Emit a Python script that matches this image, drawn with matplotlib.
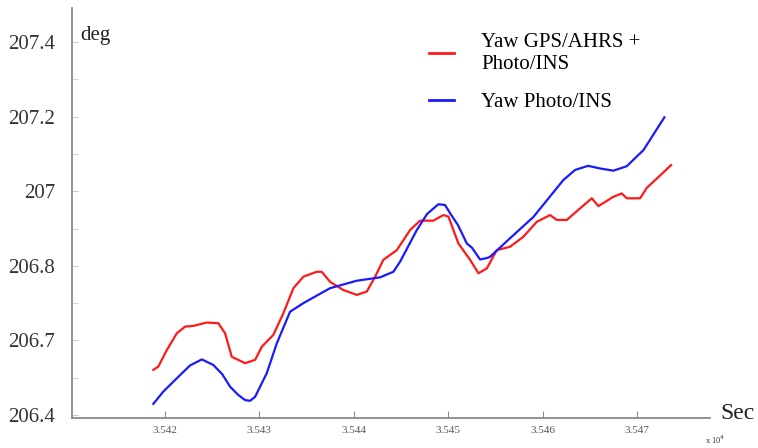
import matplotlib.pyplot as plt
from matplotlib.lines import Line2D

# time in units of 10^4 s, yaw in degrees
blue_t = [3.541881, 3.541987, 3.542164, 3.542270, 3.542394, 3.542516, 3.542608,
          3.542693, 3.542778, 3.542852, 3.542905, 3.542958, 3.543081, 3.543187,
          3.543328, 3.543469, 3.543751, 3.544034, 3.544280, 3.544421, 3.544492,
          3.544669, 3.544778, 3.544897, 3.544968, 3.545021, 3.545105, 3.545198,
          3.545254, 3.545339, 3.545413, 3.545444, 3.545656, 3.545903, 3.546220,
          3.546344, 3.546481, 3.546608, 3.546749, 3.546891, 3.547067, 3.547289]
blue_yaw = [206.430, 206.463, 206.507, 206.533, 206.549, 206.534, 206.510,
            206.476, 206.454, 206.440, 206.438, 206.449, 206.512, 206.592,
            206.677, 206.700, 206.740, 206.760, 206.769, 206.784, 206.811,
            206.896, 206.939, 206.965, 206.963, 206.941, 206.909, 206.860,
            206.848, 206.817, 206.821, 206.824, 206.874, 206.931, 207.030,
            207.057, 207.068, 207.061, 207.055, 207.067, 207.110, 207.198]

red_t = [3.541881, 3.541934, 3.542023, 3.542129, 3.542217, 3.542305, 3.542447,
         3.542569, 3.542640, 3.542711, 3.542852, 3.542958, 3.543029, 3.543151,
         3.543257, 3.543363, 3.543469, 3.543611, 3.543663, 3.543751, 3.543892,
         3.544034, 3.544140, 3.544228, 3.544315, 3.544457, 3.544598, 3.544704,
         3.544844, 3.544950, 3.545003, 3.545109, 3.545233, 3.545321, 3.545410,
         3.545515, 3.545656, 3.545797, 3.545939, 3.546079, 3.546150, 3.546256,
         3.546397, 3.546521, 3.546591, 3.546749, 3.546838, 3.546891, 3.547032,
         3.547103, 3.547243, 3.547360]
red_yaw = [206.521, 206.530, 206.574, 206.619, 206.637, 206.639, 206.648,
           206.646, 206.619, 206.556, 206.539, 206.548, 206.583, 206.615,
           206.673, 206.740, 206.771, 206.784, 206.784, 206.757, 206.735,
           206.722, 206.731, 206.771, 206.816, 206.842, 206.896, 206.921,
           206.921, 206.936, 206.932, 206.860, 206.816, 206.780, 206.793,
           206.842, 206.851, 206.878, 206.918, 206.936, 206.923, 206.923,
           206.954, 206.981, 206.960, 206.985, 206.994, 206.981, 206.981,
           207.009, 207.042, 207.070]

x_ticks = [3.542, 3.543, 3.544, 3.545, 3.546, 3.547]
x_labels = ['3.542', '3.543', '3.544', '3.545', '3.546', '3.547']
y_ticks = [206.4, 206.6, 206.8, 207.0, 207.2, 207.4]
y_labels = ['206.4', '206.7', '206.8', '207', '207.2', '207.4']
y_minor = [206.5, 206.7, 206.9, 207.1, 207.3]

plt.rcParams['font.family'] = ['Liberation Serif', 'DejaVu Serif']

fig = plt.figure(figsize=(7.58, 4.48), dpi=100)
ax = fig.add_axes([0.095, 0.067, 0.8417, 0.915])

ax.plot(red_t, red_yaw, color='#ff1a1a', lw=1.6)
ax.plot(blue_t, blue_yaw, color='#1a1aff', lw=1.6)

ax.set_xlim(3.54102, 3.547772)
ax.set_ylim(206.392, 207.491)

for s in ['top', 'right']:
    ax.spines[s].set_visible(False)
for s in ['left', 'bottom']:
    ax.spines[s].set_color('#8a8a8a')
    ax.spines[s].set_linewidth(1.3)

ax.set_xticks(x_ticks)
ax.set_xticklabels(x_labels)
ax.set_yticks(y_ticks)
ax.set_yticklabels(y_labels)
ax.set_yticks(y_minor, minor=True)
ax.tick_params(axis='x', direction='in', length=5, color='#8a8a8a',
               labelsize=8, labelcolor='#555555', pad=6)
ax.tick_params(axis='y', direction='in', length=4, color='#cccccc',
               labelsize=15, labelcolor='#333333', pad=12)
ax.tick_params(axis='y', which='minor', direction='in', length=4, color='#cccccc')

fig.text(0.106, 0.92, 'deg', fontsize=15, color='#222222', va='center')
fig.text(0.950, 0.078, 'Sec', fontsize=17, color='#222222', va='center')
fig.text(0.930, 0.018, 'x 10$^4$', fontsize=6, color='#333333', va='center')

handles = [Line2D([], [], color='#ff1a1a', lw=2),
           Line2D([], [], color='#1a1aff', lw=2)]
fig.legend(handles, ['Yaw GPS/AHRS +\nPhoto/INS', 'Yaw Photo/INS'],
           loc='upper left', bbox_to_anchor=(0.552, 0.95), frameon=False,
           fontsize=15, handlelength=1.2, handletextpad=1.3,
           labelspacing=0.9, borderpad=0)

fig.savefig('out.png', dpi=100)
